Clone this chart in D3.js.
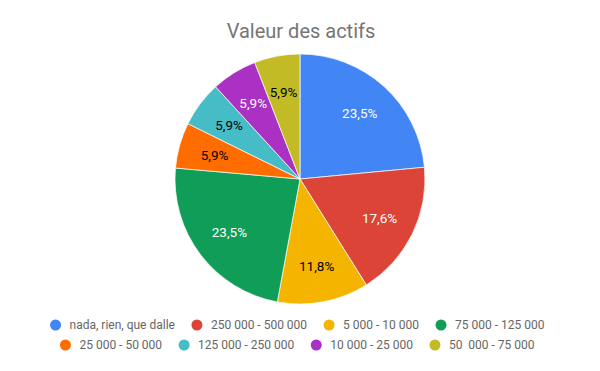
<!DOCTYPE html>
<html>
<head>
<meta charset="utf-8">
<script src="https://cdn.jsdelivr.net/npm/d3@7"></script>
<style>
  body { margin: 0; background: #fff; }
  text { font-family: Roboto, Arial, sans-serif; white-space: pre; }
</style>
</head>
<body>
<div id="chart"></div>
<script>
// Data
const categories = ['nada, rien, que dalle', '250 000 - 500 000', '5 000 - 10 000', '75 000 - 125 000',
  '25 000 - 50 000', '125 000 - 250 000', '10 000 - 25 000', '50  000 - 75 000'];
const values = [23.5, 17.6, 11.8, 23.5, 5.9, 5.9, 5.9, 5.9];
const colors = ['#4285f4', '#db4437', '#f4b400', '#0f9d58', '#ff6d00', '#46bdc6', '#ab30c4', '#c2bb25'];
const labelColors = ['#fff', '#fff', '#000', '#fff', '#000', '#000', '#fff', '#000'];
const legendRows = [[0, 1, 2, 3], [4, 5, 6, 7]];

const width = 600, height = 371;
const cx = 300, cy = 179, radius = 125;

const svg = d3.select('#chart')
  .append('svg')
    .attr('width', width)
    .attr('height', height);

// Title
svg.append('text')
  .attr('x', 301)
  .attr('y', 38)
  .attr('text-anchor', 'middle')
  .style('font-size', '20px')
  .style('fill', '#757575')
  .text('Valeur des actifs');

// Pie
const dataset = values.map((v, i) => ({ label: categories[i], value: v, i }));
const pie = d3.pie().sort(null).value((d) => d.value);
const arc = d3.arc().innerRadius(0).outerRadius(radius);
const labelArc = d3.arc().innerRadius(radius * 0.71).outerRadius(radius * 0.71);

const g = svg.append('g').attr('transform', `translate(${cx},${cy})`);

g.selectAll('path')
  .data(pie(dataset))
  .join('path')
    .attr('d', arc)
    .style('fill', (d) => colors[d.data.i])
    .style('stroke', '#fff')
    .style('stroke-width', 0.7);

const fmt = (v) => d3.format('.1f')(v).replace('.', ',') + '%';

g.selectAll('text')
  .data(pie(dataset))
  .join('text')
    .attr('transform', (d) => `translate(${labelArc.centroid(d)})`)
    .attr('text-anchor', 'middle')
    .attr('dy', '0.35em')
    .style('font-size', '13.5px')
    .style('fill', (d) => labelColors[d.data.i])
    .text((d) => fmt(d.data.value));

// Legend
const legendY = [325, 345];
legendRows.forEach((row, r) => {
  const lg = svg.append('g');
  let x = 0;
  row.forEach((i) => {
    const item = lg.append('g').attr('transform', `translate(${x},0)`);
    item.append('circle')
      .attr('cx', 6)
      .attr('cy', 0)
      .attr('r', 5.5)
      .style('fill', colors[i]);
    const t = item.append('text')
      .attr('x', 20)
      .attr('dy', '0.35em')
      .style('font-size', '12px')
      .style('fill', '#666')
      .text(categories[i]);
    x += 20 + t.node().getComputedTextLength() + 16;
  });
  const total = x - 16;
  lg.attr('transform', `translate(${297 - total / 2},${legendY[r]})`);
});
</script>
</body>
</html>
